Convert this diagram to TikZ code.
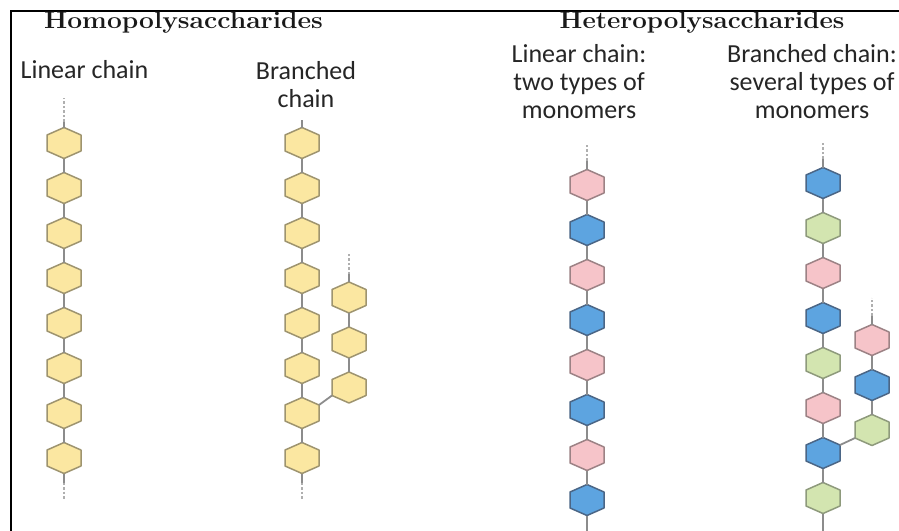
\documentclass[tikz,border=0pt]{standalone}
\usepackage{fontspec}
\newfontfamily\labelfont{Carlito}
\usetikzlibrary{positioning}

\definecolor{yelF}{HTML}{FBE7A1}
\definecolor{yelE}{HTML}{9E946F}
\definecolor{pnkF}{HTML}{F6C4C9}
\definecolor{pnkE}{HTML}{9C8285}
\definecolor{bluF}{HTML}{5DA4E0}
\definecolor{bluE}{HTML}{4B6686}
\definecolor{grnF}{HTML}{D3E5B0}
\definecolor{grnE}{HTML}{8E9A7C}
\definecolor{linkgray}{HTML}{8C8C8C}

\tikzset{
  sugar/.style={rectangle, inner sep=0pt, outer sep=0pt, minimum width=34pt, minimum height=31pt,
    append after command={\pgfextra{\let\hexn\tikzlastnode
      \filldraw[draw=#1E, fill=#1F, line width=1.5pt, line join=round]
        (\hexn.north) -- ([yshift=-7.5pt]\hexn.north east) -- ([yshift=7.5pt]\hexn.south east)
        -- (\hexn.south) -- ([yshift=7.5pt]\hexn.south west) -- ([yshift=-7.5pt]\hexn.north west) -- cycle;}}},
  link/.style={draw=linkgray, line width=1.8pt},
  stub/.style={draw=linkgray!70, line width=1.3pt, dash pattern=on 2.5pt off 2pt},
  title/.style={font=\bfseries\fontsize{24}{28}\selectfont\addfontfeatures{FakeBold=2.5}, text=black!90, anchor=base, inner sep=0pt},
  label text/.style={font=\labelfont\fontsize{26}{28}\selectfont, text=black!85, anchor=base, align=center, inner sep=0pt}
}

\begin{document}
\begin{tikzpicture}[x=1pt, y=-1pt, node distance=14pt]
    \useasboundingbox[fill=white] (0,0) rectangle (899,530);
    \draw[line width=2pt] (10.5,535) -- (10.5,11) -- (905,11);

    % titles and labels
    \node [title] (homo) at (183.5,28) {\scalebox{1.1}[1]{Homopolysaccharides}};
    \node [title] (hetero) at (702,28) {\scalebox{1.08}[1]{Heteropolysaccharides}};
    \node [label text] (linlab) at (84.5,78) {Linear chain};
    \node [label text] (brlab) at (306,107) {Branched\\chain};
    \node [label text] (twolab) at (579,118) {Linear chain:\\two types of\\monomers};
    \node [label text] (sevlab) at (812,118) {Branched chain:\\several types of\\monomers};

    % homopolysaccharide, linear
    \node [sugar=yel] (lin1) at (64,143) {};
    \node [sugar=yel, below=of lin1] (lin2) {};
    \node [sugar=yel, below=of lin2] (lin3) {};
    \node [sugar=yel, below=of lin3] (lin4) {};
    \node [sugar=yel, below=of lin4] (lin5) {};
    \node [sugar=yel, below=of lin5] (lin6) {};
    \node [sugar=yel, below=of lin6] (lin7) {};
    \node [sugar=yel, below=of lin7] (lin8) {};

    % homopolysaccharide, branched
    \node [sugar=yel] (br1) at (302,143) {};
    \node [sugar=yel, below=of br1] (br2) {};
    \node [sugar=yel, below=of br2] (br3) {};
    \node [sugar=yel, below=of br3] (br4) {};
    \node [sugar=yel, below=of br4] (br5) {};
    \node [sugar=yel, below=of br5] (br6) {};
    \node [sugar=yel, below=of br6] (br7) {};
    \node [sugar=yel, below=of br7] (br8) {};
    \node [sugar=yel] (bs1) at (349,297.5) {};
    \node [sugar=yel, below=of bs1] (bs2) {};
    \node [sugar=yel, below=of bs2] (bs3) {};

    % heteropolysaccharide, linear
    \node [sugar=pnk] (two1) at (587,185) {};
    \node [sugar=blu, below=of two1] (two2) {};
    \node [sugar=pnk, below=of two2] (two3) {};
    \node [sugar=blu, below=of two3] (two4) {};
    \node [sugar=pnk, below=of two4] (two5) {};
    \node [sugar=blu, below=of two5] (two6) {};
    \node [sugar=pnk, below=of two6] (two7) {};
    \node [sugar=blu, below=of two7] (two8) {};

    % heteropolysaccharide, branched
    \node [sugar=blu] (sev1) at (823,183) {};
    \node [sugar=grn, below=of sev1] (sev2) {};
    \node [sugar=pnk, below=of sev2] (sev3) {};
    \node [sugar=blu, below=of sev3] (sev4) {};
    \node [sugar=grn, below=of sev4] (sev5) {};
    \node [sugar=pnk, below=of sev5] (sev6) {};
    \node [sugar=blu, below=of sev6] (sev7) {};
    \node [sugar=grn, below=of sev7] (sev8) {};
    \node [sugar=pnk] (ss1) at (872,340) {};
    \node [sugar=blu, below=of ss1] (ss2) {};
    \node [sugar=grn, below=of ss2] (ss3) {};

    % glycosidic links
    \foreach \i [count=\j from 2] in {1,...,7} {
        \draw [link] (lin\i) -- (lin\j);
        \draw [link] (br\i) -- (br\j);
        \draw [link] (two\i) -- (two\j);
        \draw [link] (sev\i) -- (sev\j);
    }
    \foreach \i [count=\j from 2] in {1,2} {
        \draw [link] (bs\i) -- (bs\j);
        \draw [link] (ss\i) -- (ss\j);
    }
    \draw [link] ([yshift=-7.5pt]br7.north east) -- ([yshift=7.5pt]bs3.south west);
    \draw [link] ([yshift=-7.5pt]sev7.north east) -- ([yshift=7.5pt]ss3.south west);

    % chain ends
    \coordinate [above=6pt of lin1] (lin0s);
    \coordinate [above=30pt of lin1] (lin0e);
    \coordinate [below=9pt of lin8] (lin9s);
    \coordinate [below=25pt of lin8] (lin9e);
    \coordinate [above=8pt of br1] (br0s);
    \coordinate [below=9pt of br8] (br9s);
    \coordinate [below=25pt of br8] (br9e);
    \coordinate [above=8pt of bs1] (bs0s);
    \coordinate [above=29pt of bs1] (bs0e);
    \coordinate [above=9pt of two1] (two0s);
    \coordinate [above=26pt of two1] (two0e);
    \coordinate [below=30pt of two8] (two9e);
    \coordinate [above=9pt of sev1] (sev0s);
    \coordinate [above=26pt of sev1] (sev0e);
    \coordinate [below=30pt of sev8] (sev9e);
    \coordinate [above=9pt of ss1] (ss0s);
    \coordinate [above=27pt of ss1] (ss0e);

    \draw [link] (lin1) -- (lin0s);
    \draw [stub] (lin0s) -- (lin0e);
    \draw [link] (lin8) -- (lin9s);
    \draw [stub] (lin9s) -- (lin9e);
    \draw [link] (br1) -- (br0s);
    \draw [link] (br8) -- (br9s);
    \draw [stub] (br9s) -- (br9e);
    \draw [link] (bs1) -- (bs0s);
    \draw [stub] (bs0s) -- (bs0e);
    \draw [link] (two1) -- (two0s);
    \draw [stub] (two0s) -- (two0e);
    \draw [link] (two8) -- (two9e);
    \draw [link] (sev1) -- (sev0s);
    \draw [stub] (sev0s) -- (sev0e);
    \draw [link] (sev8) -- (sev9e);
    \draw [link] (ss1) -- (ss0s);
    \draw [stub] (ss0s) -- (ss0e);
\end{tikzpicture}
\end{document}
